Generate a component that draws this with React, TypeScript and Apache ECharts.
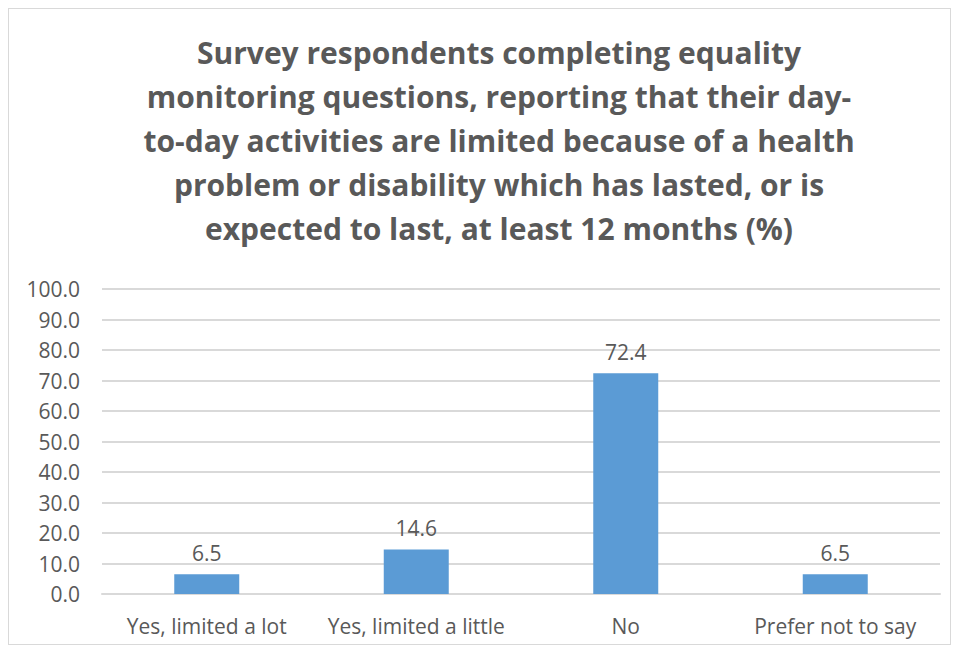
import React, { useEffect, useRef } from "react";
import * as echarts from "echarts";

const titleLines = [
  "Survey respondents completing equality",
  "monitoring questions, reporting that their day-",
  "to-day activities are limited because of a health",
  "problem or disability which has lasted, or is",
  "expected to last, at least 12 months (%)",
];
const categories = ["Yes, limited a lot", "Yes, limited a little", "No", "Prefer not to say"];
const values = [6.5, 14.6, 72.4, 6.5];
const yMin = 0;
const yMax = 100;
const yStep = 10;

const FONT = "'Open Sans', 'Liberation Sans', Arial, sans-serif";
const TEXT = "#595959";

export default function App() {
  const ref = useRef<HTMLDivElement>(null);
  useEffect(() => {
    if (!ref.current) return;
    const chart = echarts.init(ref.current, undefined, { renderer: "svg" });
    chart.setOption({
      animation: false,
      backgroundColor: "#ffffff",
      title: {
        text: titleLines.join("\n"),
        left: 485,
        top: 16,
        textAlign: "center",
        textStyle: {
          fontFamily: FONT,
          fontWeight: "bold",
          fontSize: 30,
          lineHeight: 44,
          color: TEXT,
        },
      },
      grid: { left: 93, right: 10, top: 280, bottom: 50, containLabel: false },
      xAxis: {
        type: "category",
        data: categories,
        axisLine: { show: true, lineStyle: { color: "#d9d9d9", width: 2 } },
        axisTick: { show: false },
        axisLabel: { color: TEXT, fontFamily: FONT, fontSize: 21, margin: 21, interval: 0 },
      },
      yAxis: {
        type: "value",
        min: yMin,
        max: yMax,
        interval: yStep,
        axisLine: { show: false },
        axisTick: { show: false },
        splitLine: { lineStyle: { color: "#d9d9d9", width: 2 } },
        axisLabel: {
          color: TEXT,
          fontFamily: FONT,
          fontSize: 21,
          margin: 22,
          formatter: (v: number) => v.toFixed(1),
        },
      },
      series: [
        {
          type: "bar",
          data: values,
          barWidth: 65,
          itemStyle: { color: "#5b9bd5" },
          label: {
            show: true,
            position: "top",
            distance: 11,
            color: TEXT,
            fontFamily: FONT,
            fontSize: 21,
            formatter: (p: any) => Number(p.value).toFixed(1),
          },
        },
      ],
    });
    return () => chart.dispose();
  }, []);
  return (
    <div
      ref={ref}
      style={{ width: 941, height: 635, border: "1px solid #d9d9d9", background: "#fff" }}
    />
  );
}
